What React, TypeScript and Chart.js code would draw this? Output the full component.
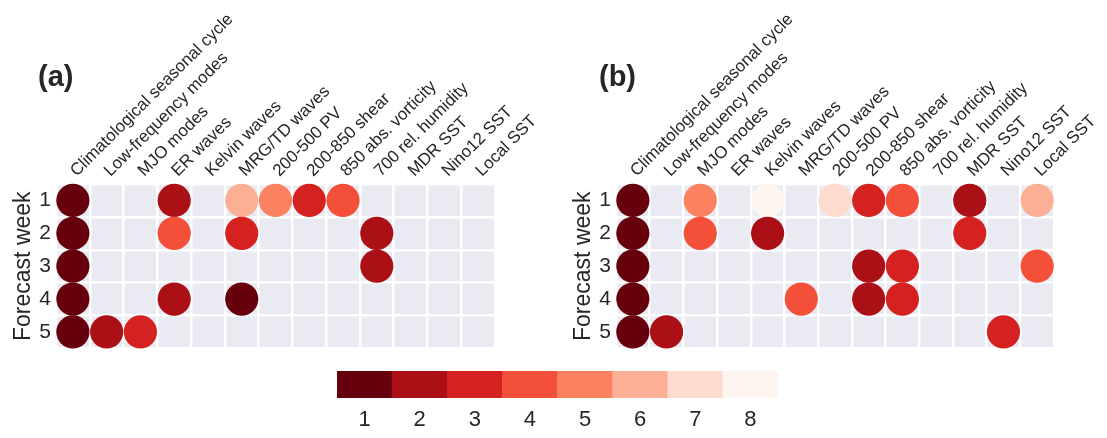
import { useEffect, useRef } from 'react';
import { Chart, registerables } from 'chart.js';

Chart.register(...registerables);

const predictors = [
  'Climatological seasonal cycle',
  'Low-frequency modes',
  'MJO modes',
  'ER waves',
  'Kelvin waves',
  'MRG/TD waves',
  '200-500 PV',
  '200-850 shear',
  '850 abs. vorticity',
  '700 rel. humidity',
  'MDR SST',
  'Nino12 SST',
  'Local SST',
];
const forecastWeeks = ['1', '2', '3', '4', '5'];
const rankLabels = ['1', '2', '3', '4', '5', '6', '7', '8'];
const rankColors = ['#67000d', '#aa1016', '#d52221', '#f44f39', '#fc8161', '#fcaf94', '#fedbcc', '#fff5f0'];
const colorbarSpan = [1, 1, 1, 1, 1, 1, 1, 1];

type Rank = number | null;
const _ = null;
// panel (a): rank of each predictor (null = not selected), one array per forecast week
const panelAWeek1: Rank[] = [1, _, _, 2, _, 6, 5, 3, 4, _, _, _, _];
const panelAWeek2: Rank[] = [1, _, _, 4, _, 3, _, _, _, 2, _, _, _];
const panelAWeek3: Rank[] = [1, _, _, _, _, _, _, _, _, 2, _, _, _];
const panelAWeek4: Rank[] = [1, _, _, 2, _, 1, _, _, _, _, _, _, _];
const panelAWeek5: Rank[] = [1, 2, 3, _, _, _, _, _, _, _, _, _, _];
// panel (b)
const panelBWeek1: Rank[] = [1, _, 5, _, 8, _, 7, 3, 4, _, 2, _, 6];
const panelBWeek2: Rank[] = [1, _, 4, _, 2, _, _, _, _, _, 3, _, _];
const panelBWeek3: Rank[] = [1, _, _, _, _, _, _, 2, 3, _, _, _, 4];
const panelBWeek4: Rank[] = [1, _, _, _, _, 4, _, 2, 3, _, _, _, _];
const panelBWeek5: Rank[] = [1, 2, _, _, _, _, _, _, _, _, _, 3, _];

const panelA = [panelAWeek1, panelAWeek2, panelAWeek3, panelAWeek4, panelAWeek5];
const panelB = [panelBWeek1, panelBWeek2, panelBWeek3, panelBWeek4, panelBWeek5];

const FONT = '"Liberation Sans", Arial, sans-serif';
const TEXT = '#262626';

const cellBackground = {
  id: 'cellBackground',
  beforeDraw(chart: any) {
    const { ctx, chartArea } = chart;
    if (!chartArea) return;
    ctx.save();
    ctx.fillStyle = '#eaeaf2';
    ctx.fillRect(chartArea.left, chartArea.top, chartArea.right - chartArea.left, chartArea.bottom - chartArea.top);
    ctx.restore();
  },
};

function panelConfig(ranks: Rank[][], padRight: number): any {
  const points: any[] = [];
  const colors: string[] = [];
  ranks.forEach((row, w) => {
    row.forEach((r, p) => {
      if (r != null) {
        points.push({ x: predictors[p], y: forecastWeeks[w] });
        colors.push(rankColors[r - 1]);
      }
    });
  });
  return {
    type: 'scatter',
    data: {
      datasets: [
        {
          data: points,
          pointRadius: 16.6,
          pointHoverRadius: 16.6,
          pointBackgroundColor: colors,
          pointBorderWidth: 0,
          borderWidth: 0,
        },
      ],
    },
    options: {
      animation: false,
      responsive: false,
      events: [],
      layout: { padding: { left: 0, top: 0, right: padRight, bottom: 12 } },
      plugins: { legend: { display: false }, tooltip: { enabled: false } },
      scales: {
        x: {
          type: 'category',
          labels: predictors,
          position: 'top',
          offset: true,
          grid: { offset: true, color: '#ffffff', lineWidth: 2.5, drawTicks: false },
          border: { display: false },
          ticks: {
            autoSkip: false,
            minRotation: 45,
            maxRotation: 45,
            padding: 3,
            labelOffset: 15,
            color: TEXT,
            font: { family: FONT, size: 17 },
          },
          afterFit: (s: any) => {
            s.height = 184;
            s.paddingLeft = 0;
            s.paddingRight = 0;
          },
        },
        y: {
          type: 'category',
          labels: forecastWeeks,
          offset: true,
          grid: { offset: true, color: '#ffffff', lineWidth: 2.5, drawTicks: false },
          border: { display: false },
          ticks: { padding: 5, color: TEXT, font: { family: FONT, size: 21 } },
          title: {
            display: true,
            text: 'Forecast week',
            color: TEXT,
            font: { family: FONT, size: 23 },
            padding: { top: 10, bottom: 0 },
          },
          afterFit: (s: any) => {
            s.width = 56;
            s.paddingTop = 0;
            s.paddingBottom = 0;
          },
        },
      },
    },
    plugins: [cellBackground],
  };
}

function colorbarConfig(): any {
  return {
    type: 'bar',
    data: {
      labels: rankLabels,
      datasets: [
        {
          data: colorbarSpan,
          backgroundColor: rankColors,
          barPercentage: 1,
          categoryPercentage: 1,
          borderWidth: 0,
        },
      ],
    },
    options: {
      animation: false,
      responsive: false,
      events: [],
      layout: { padding: { left: 37, right: 42, top: 11, bottom: 0 } },
      plugins: { legend: { display: false }, tooltip: { enabled: false } },
      scales: {
        x: {
          grid: { display: false, drawTicks: false },
          border: { display: false },
          ticks: { padding: 9, color: TEXT, font: { family: FONT, size: 22 } },
          afterFit: (s: any) => {
            s.height = 40;
            s.paddingLeft = 0;
            s.paddingRight = 0;
          },
        },
        y: { display: false, min: 0, max: 1 },
      },
    },
  };
}

function ChartCanvas({ config, left, top, width, height }: any) {
  const ref = useRef<HTMLCanvasElement>(null);
  useEffect(() => {
    if (!ref.current) return;
    const chart = new Chart(ref.current, config);
    return () => chart.destroy();
  }, []);
  return (
    <canvas
      ref={ref}
      width={width}
      height={height}
      style={{ position: 'absolute', left, top, width, height }}
    />
  );
}

export default function App() {
  const labelStyle: any = {
    position: 'absolute',
    fontFamily: FONT,
    fontWeight: 'bold',
    fontSize: 29,
    color: TEXT,
    lineHeight: '32px',
  };
  return (
    <div style={{ position: 'fixed', left: 0, top: 0, width: 1107, height: 438, background: '#fff', overflow: 'hidden' }}>
      <ChartCanvas config={panelConfig(panelA, 65)} left={0} top={0} width={560} height={365} />
      <ChartCanvas config={panelConfig(panelB, 53)} left={560} top={0} width={547} height={365} />
      <ChartCanvas config={colorbarConfig()} left={300} top={360} width={520} height={78} />
      <div style={{ ...labelStyle, left: 38, top: 60 }}>(a)</div>
      <div style={{ ...labelStyle, left: 599, top: 60 }}>(b)</div>
    </div>
  );
}
